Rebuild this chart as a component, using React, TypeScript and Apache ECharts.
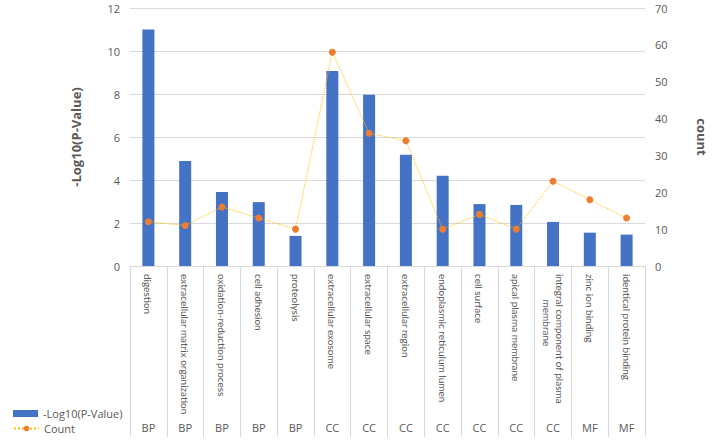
import React, { useEffect, useRef } from "react";
import * as echarts from "echarts";

const categories = [
  "digestion",
  "extracellular matrix organization",
  "oxidation-reduction process",
  "cell adhesion",
  "proteolysis",
  "extracellular exosome",
  "extracellular space",
  "extracellular region",
  "endoplasmic reticulum lumen",
  "cell surface",
  "apical plasma membrane",
  "integral component of plasma\n          membrane",
  "zinc ion binding",
  "identical protein binding",
];
const groups = ["BP", "BP", "BP", "BP", "BP", "CC", "CC", "CC", "CC", "CC", "CC", "CC", "MF", "MF"];
const logP = [11.0, 4.88, 3.44, 2.97, 1.4, 9.07, 7.97, 5.18, 4.2, 2.88, 2.84, 2.05, 1.55, 1.46];
const counts = [12, 11, 16, 13, 10, 58, 36, 34, 10, 14, 10, 23, 18, 13];
const leftTicks = { min: 0, max: 12, interval: 2 };
const rightTicks = { min: 0, max: 70, interval: 10 };

const FONT = "'Open Sans', 'Noto Sans', sans-serif";
const LFONT = "Lato, 'Noto Sans', sans-serif";
const TXT = "#595959";
const GRID = "#d9d9d9";

export default function App() {
  const ref = useRef<HTMLDivElement>(null);
  useEffect(() => {
    const chart = echarts.init(ref.current!, null, { renderer: "svg" });
    const legendCommon = {
      orient: "horizontal",
      left: 8,
      itemWidth: 25,
      itemHeight: 7,
      textStyle: { color: TXT, fontSize: 11, fontFamily: FONT },
    };
    chart.setOption({
      animation: false,
      textStyle: { fontFamily: FONT },
      grid: { left: 130, right: 77, top: 8, bottom: 177, containLabel: false },
      legend: [
        { ...legendCommon, top: 403, data: [{ name: "-Log10(P-Value)", icon: "rect" }] },
        { ...legendCommon, top: 418, data: [{ name: "Count" }] },
      ],
      xAxis: [
        {
          type: "category",
          data: categories,
          boundaryGap: true,
          axisLine: { show: true, lineStyle: { color: GRID } },
          axisTick: { show: true, length: 171, lineStyle: { color: GRID } },
          axisLabel: {
            rotate: -90,
            interval: 0,
            color: TXT,
            fontSize: 10,
            margin: 8,
            fontFamily: LFONT,
            lineHeight: 13,
          },
        },
        {
          type: "category",
          data: groups,
          position: "bottom",
          boundaryGap: true,
          axisLine: { show: false },
          axisTick: { show: false },
          axisLabel: { interval: 0, color: TXT, fontSize: 11, margin: 156, fontFamily: FONT },
        },
      ],
      yAxis: [
        {
          type: "value",
          ...leftTicks,
          name: "-Log10(P-Value)",
          nameLocation: "middle",
          nameGap: 48,
          nameTextStyle: { color: TXT, fontSize: 13, fontWeight: "bold", fontFamily: FONT },
          axisLine: { show: false },
          axisTick: { show: false },
          axisLabel: { color: TXT, fontSize: 11, margin: 10 },
          splitLine: { lineStyle: { color: GRID } },
        },
        {
          type: "value",
          ...rightTicks,
          name: "count",
          nameLocation: "middle",
          nameGap: 50,
          nameRotate: -90,
          nameTextStyle: { color: TXT, fontSize: 13, fontWeight: "bold", fontFamily: FONT },
          axisLine: { show: false },
          axisTick: { show: false },
          axisLabel: { color: TXT, fontSize: 11, margin: 10 },
          splitLine: { show: false },
        },
      ],
      series: [
        {
          name: "-Log10(P-Value)",
          type: "bar",
          data: logP,
          barWidth: 12,
          itemStyle: { color: "#4472C4" },
          xAxisIndex: 0,
          yAxisIndex: 0,
        },
        {
          name: "Count",
          type: "line",
          data: counts,
          xAxisIndex: 0,
          yAxisIndex: 1,
          symbol: "circle",
          symbolSize: 7,
          itemStyle: { color: "#ED7D31" },
          lineStyle: { color: "#FFC000", type: "dotted", width: 1 },
        },
      ],
    });
    return () => chart.dispose();
  }, []);
  return <div ref={ref} style={{ width: 722, height: 443, position: "absolute", left: 0, top: 0 }} />;
}
